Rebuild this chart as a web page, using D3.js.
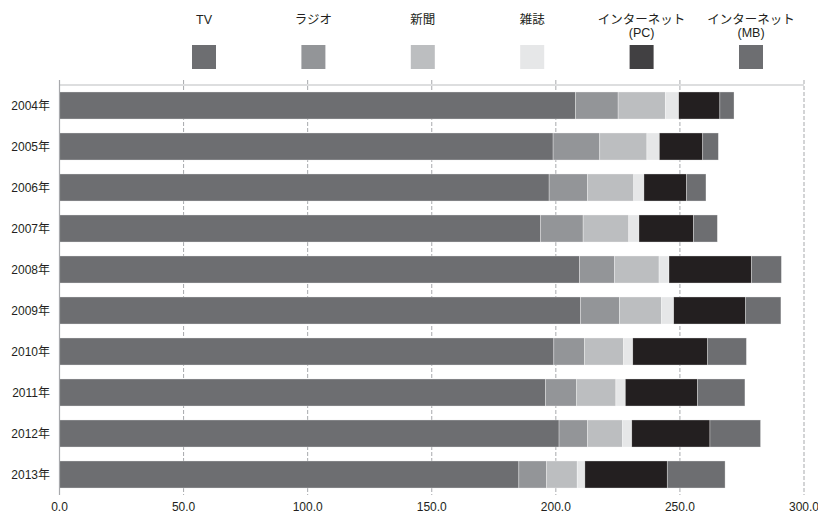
<!DOCTYPE html>
<html>
<head>
<meta charset="utf-8">
<script src="https://cdn.jsdelivr.net/npm/d3@7"></script>
<style>
  html, body { margin: 0; padding: 0; background: #fff; }
  svg { display: block; font-family: "Liberation Sans", "Noto Sans CJK JP", sans-serif; }
</style>
</head>
<body>
<svg id="chart" width="818" height="513"></svg>
<script>
// Media consumption per year, stacked by medium
const years = ["2004年","2005年","2006年","2007年","2008年","2009年","2010年","2011年","2012年","2013年"];
const tv       = [208.0, 198.9, 197.3, 193.9, 209.6, 210.0, 199.2, 195.9, 201.3, 185.1];
const radio    = [17.1, 18.8, 15.5, 17.1, 14.1, 15.6, 12.3, 12.5, 11.5, 11.2];
const newspaper= [19.0, 19.0, 18.6, 18.4, 17.9, 17.0, 15.8, 15.8, 14.1, 12.3];
const magazine = [5.4, 5.0, 4.1, 4.1, 4.0, 4.9, 3.7, 3.8, 3.7, 3.1];
const netPC    = [16.6, 17.5, 17.2, 22.0, 33.3, 29.0, 30.2, 29.1, 31.5, 33.2];
const netMB    = [5.7, 6.3, 7.8, 9.6, 12.0, 14.2, 15.6, 19.1, 20.4, 23.3];
const xTicks   = [0, 50, 100, 150, 200, 250, 300];

const seriesNames  = ["TV", "ラジオ", "新聞", "雑誌", "インターネット\n(PC)", "インターネット\n(MB)"];
const seriesValues = [tv, radio, newspaper, magazine, netPC, netMB];
const barColors    = ["#6d6e71", "#939598", "#bcbec0", "#e6e7e8", "#231f20", "#6d6e71"];
const swatchColors = ["#6d6e71", "#939598", "#bcbec0", "#e6e7e8", "#414042", "#6d6e71"];

const rows = years.map((yr, i) => {
  const r = { year: yr };
  seriesNames.forEach((s, k) => { r["s" + k] = seriesValues[k][i]; });
  return r;
});
const keys = seriesNames.map((s, k) => "s" + k);
const stacked = d3.stack().keys(keys)(rows);

const svg = d3.select("#chart");
const plotLeft = 59.5, plotRight = 804, plotTop = 85, plotBottom = 495;

const x = d3.scaleLinear().domain([0, 300]).range([plotLeft, plotRight]);
const y = d3.scaleBand().domain(years).range([plotTop, plotBottom]).paddingInner(0.34).paddingOuter(0.17);

// dashed vertical grid
svg.append("g").selectAll("line").data(xTicks.slice(1)).join("line")
  .attr("x1", d => x(d)).attr("x2", d => x(d))
  .attr("y1", 80).attr("y2", plotBottom)
  .attr("stroke", "#a7a9ac").attr("stroke-width", 1)
  .attr("stroke-dasharray", "4,2");

// top frame line
svg.append("line")
  .attr("x1", plotLeft).attr("x2", plotRight).attr("y1", plotTop).attr("y2", plotTop)
  .attr("stroke", "#bcbec0").attr("stroke-width", 1.2);

// stacked bars
svg.append("g").selectAll("g").data(stacked).join("g")
  .attr("fill", (d, k) => barColors[k])
  .selectAll("rect").data(d => d).join("rect")
  .attr("x", d => x(d[0]))
  .attr("width", d => x(d[1]) - x(d[0]))
  .attr("y", d => y(d.data.year))
  .attr("height", y.bandwidth())
  .attr("stroke", "rgba(255,255,255,0.55)")
  .attr("stroke-width", 0.6);

// left axis line
svg.append("line")
  .attr("x1", plotLeft).attr("x2", plotLeft).attr("y1", 80).attr("y2", plotBottom)
  .attr("stroke", "#a7a9ac").attr("stroke-width", 1.2);

// year labels
svg.append("g").selectAll("text").data(years).join("text")
  .attr("x", 50).attr("y", d => y(d) + y.bandwidth() / 2)
  .attr("dy", "0.36em")
  .attr("text-anchor", "end")
  .attr("font-size", 12).attr("fill", "#231f20")
  .text(d => d);

// value axis labels
svg.append("g").selectAll("text").data(xTicks).join("text")
  .attr("x", d => x(d)).attr("y", 511)
  .attr("text-anchor", "middle")
  .attr("font-size", 12).attr("fill", "#231f20")
  .text(d => d3.format(".1f")(d));

// legend: swatches with one- or two-line captions above
const lx = d3.scalePoint().domain(keys).range([204, 751]);
const legend = svg.append("g").selectAll("g").data(keys).join("g")
  .attr("transform", d => `translate(${lx(d)},0)`);
legend.append("rect")
  .attr("x", -12).attr("y", 45).attr("width", 24).attr("height", 24)
  .attr("fill", (d, k) => swatchColors[k]);
legend.selectAll("text").data((d, k) => seriesNames[k].split("\n")).join("text")
  .attr("x", 0).attr("y", (d, i) => 24 + i * 13)
  .attr("text-anchor", "middle")
  .attr("font-size", 12.5).attr("fill", "#231f20")
  .text(d => d);
</script>
</body>
</html>
